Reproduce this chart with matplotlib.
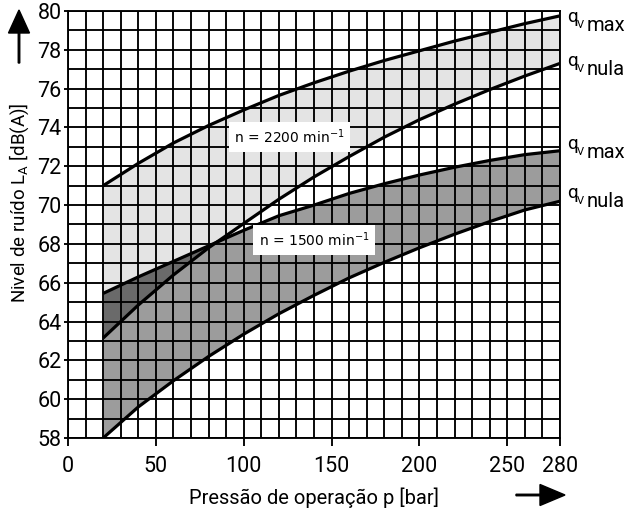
import matplotlib
matplotlib.use('Agg')
import matplotlib.pyplot as plt
from matplotlib.patches import FancyArrow
from matplotlib.ticker import MultipleLocator, FixedLocator
import numpy as np

plt.rcParams['font.family'] = ['Liberation Sans Narrow', 'DejaVu Sans Condensed', 'Roboto', 'DejaVu Sans']
plt.rcParams['mathtext.default'] = 'regular'

# pressao de operacao [bar]
pressure = [20, 40, 60, 80, 100, 120, 140, 160, 180, 200, 220, 240, 260, 280]
# nivel de ruido LA [dB(A)]
la_2200_max = [71.0, 72.15, 73.2, 74.1, 74.9, 75.65, 76.3, 76.9, 77.45, 77.95, 78.45, 78.9, 79.35, 79.75]
la_2200_nula = [63.15, 64.85, 66.4, 67.8, 69.05, 70.3, 71.45, 72.5, 73.5, 74.4, 75.2, 75.95, 76.65, 77.3]
la_1500_max = [65.45, 66.3, 67.1, 67.9, 68.7, 69.45, 70.0, 70.6, 71.1, 71.55, 71.95, 72.3, 72.6, 72.8]
la_1500_nula = [58.0, 59.6, 60.95, 62.2, 63.35, 64.4, 65.35, 66.25, 67.05, 67.8, 68.5, 69.15, 69.75, 70.2]

x_ticks = [0, 50, 100, 150, 200, 250, 280]
curve_labels = ['max', 'nula', 'max', 'nula']

p = np.array(pressure)
a_max = np.array(la_2200_max)
a_nul = np.array(la_2200_nula)
b_max = np.array(la_1500_max)
b_nul = np.array(la_1500_nula)

fig = plt.figure(figsize=(6.36, 5.14), dpi=100)
ax = fig.add_axes([68/636, 76/514, 492/636, 427/514])

# bands
ax.fill_between(p, a_nul, a_max, color='#e4e4e4', lw=0, zorder=1)
ax.fill_between(p, b_nul, b_max, color='#9c9c9c', lw=0, zorder=1)
ax.fill_between(p, a_nul, b_max, where=a_nul < b_max, interpolate=True,
                color='#6a6a6a', lw=0, zorder=1)

for arr in (a_max, a_nul, b_max, b_nul):
    ax.plot(p, arr, color='black', lw=2.3, zorder=3, solid_capstyle='butt')

ax.set_xlim(0, 280)
ax.set_ylim(58, 80)
ax.xaxis.set_major_locator(FixedLocator(x_ticks))
ax.xaxis.set_minor_locator(MultipleLocator(10))
ax.yaxis.set_major_locator(MultipleLocator(2))
ax.yaxis.set_minor_locator(MultipleLocator(1))
ax.set_axisbelow(False)
ax.grid(which='both', color='black', lw=1.35)
ax.tick_params(axis='x', which='major', length=6, width=1.35, pad=7, labelsize=15.5)
ax.tick_params(axis='y', which='major', length=3, width=1.35, pad=1.5, labelsize=15.5)
ax.tick_params(which='minor', length=0)
for s in ax.spines.values():
    s.set_linewidth(1.35)

ax.set_xlabel('Pressão de operação p [bar]', fontsize=14.5)
ax.xaxis.set_label_coords(0.5, -0.115)
ax.set_ylabel('Nivel de ruído L$_A$ [dB(A)]', fontsize=13.5)
ax.yaxis.set_label_coords(-0.075, 0.55)

# labels inside the chart
box = dict(boxstyle='square,pad=0.4', fc='white', ec='none')
ax.text(126, 73.5, 'n = 2200 min$^{-1}$', family='DejaVu Sans', fontsize=10,
        ha='center', va='center', bbox=box, zorder=5)
ax.text(140, 68.2, 'n = 1500 min$^{-1}$', family='DejaVu Sans', fontsize=10,
        ha='center', va='center', bbox=box, zorder=5)

# q_V labels at right end
ends = [a_max[-1], a_nul[-1], b_max[-1], b_nul[-1]]
shift = [-6, -3, 2, 3]
for v, lab, dy in zip(ends, curve_labels, shift):
    kw = dict(xycoords=('axes fraction', 'data'), textcoords='offset pixels',
              va='baseline', ha='left', annotation_clip=False)
    ax.annotate('q', xy=(1, v), xytext=(7, dy), fontsize=13.5, **kw)
    ax.annotate('V', xy=(1, v), xytext=(17, dy - 6), fontsize=8, **kw)
    ax.annotate(lab, xy=(1, v), xytext=(27, dy - 9), fontsize=14.5, **kw)

# axis arrows (pixel coordinates)
fig.patches.append(FancyArrow(19, 514 - 63, 0, 53, width=1.5, head_width=21,
                              head_length=23, length_includes_head=True,
                              color='black', transform=None, figure=fig))
fig.patches.append(FancyArrow(516, 514 - 495, 49, 0, width=1.5, head_width=21,
                              head_length=25, length_includes_head=True,
                              color='black', transform=None, figure=fig))

fig.savefig('out.png', dpi=100)
